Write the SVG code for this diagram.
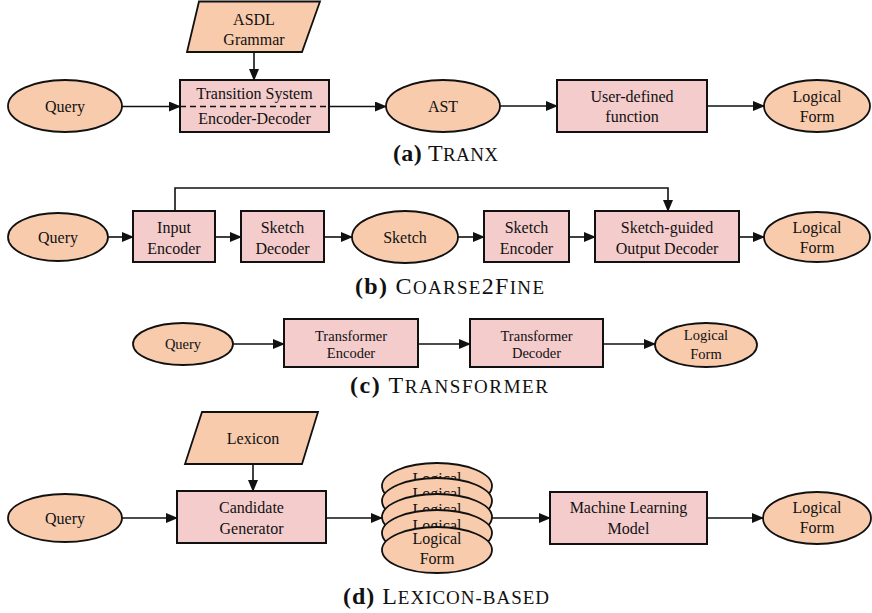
<svg xmlns="http://www.w3.org/2000/svg" width="872" height="613" viewBox="0 0 872 613">
<defs>
<style>
text{font-family:"Liberation Serif","Times New Roman",serif;fill:#111;}
.t{font-size:16px;text-anchor:middle;}
.s{font-size:14.5px;text-anchor:middle;}
.box{fill:#f4cccc;stroke:#111;stroke-width:2;}
.ell{fill:#f8cbad;stroke:#111;stroke-width:1.8;}
.conn line,.conn path{stroke:#111;stroke-width:1.6;fill:none;marker-end:url(#ah);}
.cap{font-size:24px;}
.sc{font-size:19px;}
.b{font-weight:bold;}
</style>
<marker id="ah" markerUnits="userSpaceOnUse" markerWidth="12" markerHeight="10" refX="11" refY="5" orient="auto">
<path d="M0,0 L12,5 L0,10 z" fill="#111"/>
</marker>
</defs>
<rect width="872" height="613" fill="#fff"/>

<!-- (a) TRANX -->
<g id="a_query"><ellipse class="ell" cx="65" cy="106" rx="57" ry="26"/><text class="t" x="65" y="111.5">Query</text></g>
<g id="a_asdl"><polygon class="ell" points="199,1.5 320,1.5 302,52 187,52"/><text class="t" x="254" y="24.5">ASDL</text><text class="t" x="254" y="44.5">Grammar</text></g>
<g id="a_ts"><rect class="box" x="180" y="80" width="149" height="52"/><line x1="180" y1="106.5" x2="329" y2="106.5" stroke="#111" stroke-width="1.6" stroke-dasharray="6,4"/><text class="t" x="254.5" y="99">Transition System</text><text class="t" x="254.5" y="124">Encoder-Decoder</text></g>
<g id="a_ast"><ellipse class="ell" cx="443" cy="106" rx="57" ry="26"/><text class="t" x="443" y="111.5">AST</text></g>
<g id="a_udf"><rect class="box" x="557" y="80" width="150" height="52"/><text class="t" x="632" y="102">User-defined</text><text class="t" x="632" y="122">function</text></g>
<g id="a_lf"><ellipse class="ell" cx="817" cy="106" rx="53" ry="26"/><text class="t" x="817" y="101.5">Logical</text><text class="t" x="817" y="121.5">Form</text></g>
<text class="cap" x="393" y="161" textLength="105" lengthAdjust="spacing"><tspan class="b">(a)</tspan> T<tspan class="sc">RANX</tspan></text>

<!-- (b) COARSE2FINE -->
<g id="b_query"><ellipse class="ell" cx="58" cy="237" rx="50" ry="24"/><text class="t" x="58" y="242.5">Query</text></g>
<g id="b_ie"><rect class="box" x="133" y="211" width="82" height="51"/><text class="t" x="174" y="233">Input</text><text class="t" x="174" y="253.5">Encoder</text></g>
<g id="b_sd"><rect class="box" x="241" y="211" width="83" height="51"/><text class="t" x="282.5" y="233">Sketch</text><text class="t" x="282.5" y="253.5">Decoder</text></g>
<g id="b_sk"><ellipse class="ell" cx="405" cy="237" rx="53" ry="26"/><text class="t" x="405" y="242.5">Sketch</text></g>
<g id="b_se"><rect class="box" x="484" y="211" width="85" height="51"/><text class="t" x="526.5" y="233">Sketch</text><text class="t" x="526.5" y="253.5">Encoder</text></g>
<g id="b_sg"><rect class="box" x="595" y="211" width="144" height="51"/><text class="t" x="667" y="233">Sketch-guided</text><text class="t" x="667" y="253.5">Output Decoder</text></g>
<g id="b_lf"><ellipse class="ell" cx="817" cy="237" rx="53" ry="25"/><text class="t" x="817" y="232.5">Logical</text><text class="t" x="817" y="252.5">Form</text></g>
<text class="cap" x="355" y="293.5" textLength="189" lengthAdjust="spacing"><tspan class="b">(b)</tspan> C<tspan class="sc">OARSE</tspan>2F<tspan class="sc">INE</tspan></text>

<!-- (c) TRANSFORMER -->
<g id="c_query"><ellipse class="ell" cx="183" cy="344" rx="50" ry="21"/><text class="s" x="183" y="349">Query</text></g>
<g id="c_te"><rect class="box" x="284" y="319" width="134" height="48"/><text class="s" x="351" y="340.5">Transformer</text><text class="s" x="351" y="358">Encoder</text></g>
<g id="c_td"><rect class="box" x="470" y="319" width="133" height="48"/><text class="s" x="536.5" y="340.5">Transformer</text><text class="s" x="536.5" y="358">Decoder</text></g>
<g id="c_lf"><ellipse class="ell" cx="706" cy="345" rx="51" ry="22"/><text class="s" x="706" y="340">Logical</text><text class="s" x="706" y="359">Form</text></g>
<text class="cap" x="350" y="393" textLength="198" lengthAdjust="spacing"><tspan class="b">(c)</tspan> T<tspan class="sc">RANSFORMER</tspan></text>

<!-- (d) LEXICON-BASED -->
<g id="d_lex"><polygon class="ell" points="202,412 318,412 302,464 185,464"/><text class="t" x="253" y="444">Lexicon</text></g>
<g id="d_query"><ellipse class="ell" cx="65" cy="518" rx="57" ry="24"/><text class="t" x="65" y="523.5">Query</text></g>
<g id="d_cg"><rect class="box" x="177" y="491" width="149" height="52"/><text class="t" x="251.5" y="513">Candidate</text><text class="t" x="251.5" y="533.5">Generator</text></g>
<g id="d_stack">
<ellipse class="ell" cx="437" cy="486" rx="55" ry="23"/><text class="t" x="437" y="483.5">Logical</text>
<ellipse class="ell" cx="437" cy="501" rx="55" ry="23"/><text class="t" x="437" y="498.5">Logical</text>
<ellipse class="ell" cx="437" cy="517" rx="55" ry="23"/><text class="t" x="437" y="514.5">Logical</text>
<ellipse class="ell" cx="437" cy="533" rx="55" ry="23"/><text class="t" x="437" y="530.5">Logical</text>
<ellipse class="ell" cx="437" cy="550" rx="55" ry="23"/><text class="t" x="437" y="544">Logical</text><text class="t" x="437" y="564">Form</text>
</g>
<g id="d_ml"><rect class="box" x="550" y="492" width="157" height="52"/><text class="t" x="628.5" y="513">Machine Learning</text><text class="t" x="628.5" y="533.5">Model</text></g>
<g id="d_lf"><ellipse class="ell" cx="817" cy="518" rx="54" ry="26"/><text class="t" x="817" y="513">Logical</text><text class="t" x="817" y="533">Form</text></g>
<text class="cap" x="343" y="604" textLength="206" lengthAdjust="spacing"><tspan class="b">(d)</tspan> L<tspan class="sc">EXICON-BASED</tspan></text>

<g id="connectors" class="conn">
<line x1="122" y1="106.5" x2="180" y2="106.5"/>
<line x1="254" y1="52" x2="254" y2="80"/>
<line x1="329" y1="106.5" x2="386" y2="106.5"/>
<line x1="500" y1="106" x2="557" y2="106"/>
<line x1="707" y1="106" x2="764" y2="106"/>
<line x1="108" y1="237" x2="133" y2="237"/>
<line x1="215" y1="237" x2="241" y2="237"/>
<line x1="324" y1="237" x2="352" y2="237"/>
<line x1="458" y1="237" x2="484" y2="237"/>
<line x1="569" y1="237" x2="595" y2="237"/>
<line x1="739" y1="237" x2="764" y2="237"/>
<path d="M175,211 V188 H668 V211"/>
<line x1="233" y1="344" x2="284" y2="344"/>
<line x1="418" y1="344" x2="470" y2="344"/>
<line x1="603" y1="344" x2="655" y2="344"/>
<line x1="253" y1="464" x2="253" y2="491"/>
<line x1="122" y1="518" x2="177" y2="518"/>
<line x1="326" y1="518" x2="382" y2="518"/>
<line x1="492" y1="518" x2="550" y2="518"/>
<line x1="707" y1="518" x2="763" y2="518"/>
</g>
</svg>
